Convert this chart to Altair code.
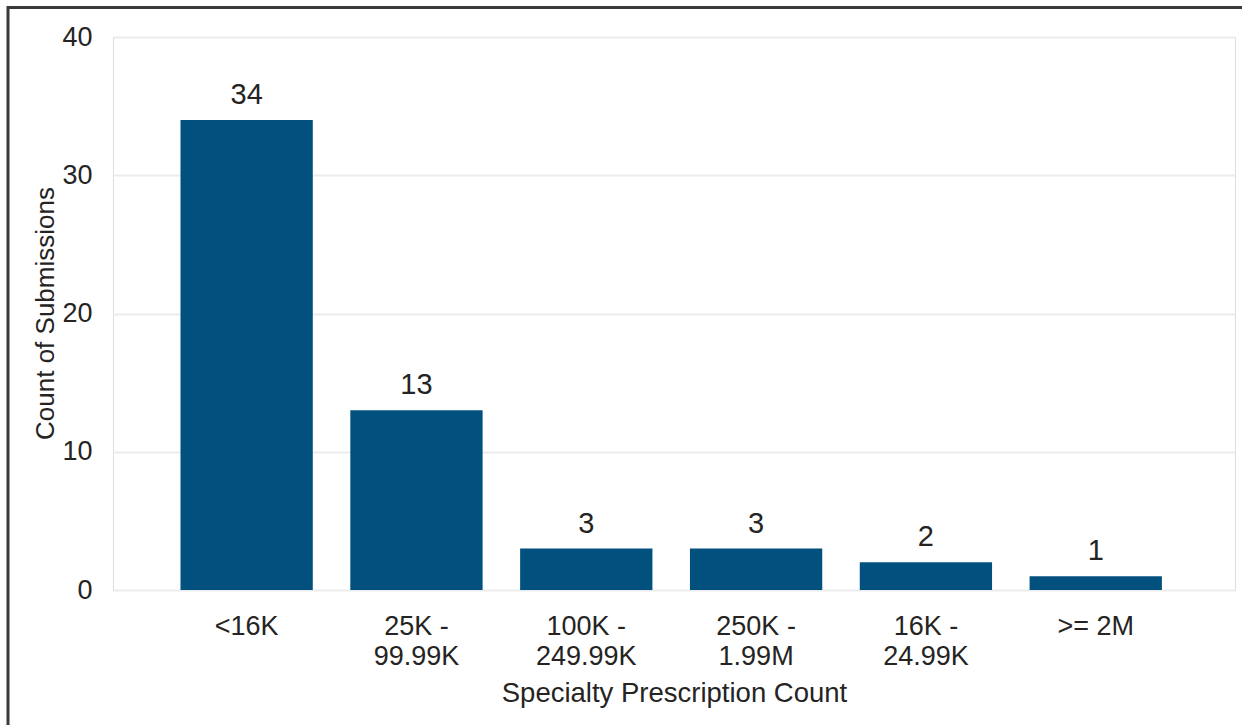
import altair as alt
import pandas as pd

# Submission counts per specialty prescription volume band
bands = ["<16K", "25K - 99.99K", "100K - 249.99K", "250K - 1.99M", "16K - 24.99K", ">= 2M"]
submissions = [34, 13, 3, 3, 2, 1]
y_ticks = [0, 10, 20, 30, 40]

df = pd.DataFrame({"band": bands, "count": submissions})

BAR = "#02507e"
TEXT = "#252423"
FONT = "Liberation Sans"

base = alt.Chart(df).encode(
    x=alt.X(
        "band:N",
        sort=None,
        scale=alt.Scale(paddingInner=0.221, paddingOuter=0.414, align=0.48),
        axis=alt.Axis(
            title="Specialty Prescription Count",
            labelAngle=0,
            labelExpr="split(replace(datum.label, ' - ', ' -|'), '|')",
            labelFontSize=27,
            labelLineHeight=30,
            labelPadding=23,
            labelColor=TEXT,
            labelFont=FONT,
            domain=False,
            ticks=False,
            tickSize=0,
            grid=False,
            titleFontSize=27.5,
            titleFontWeight="normal",
            titleFont=FONT,
            titleColor=TEXT,
            titleY=103,
            titleBaseline="middle",
        ),
    ),
    y=alt.Y(
        "count:Q",
        scale=alt.Scale(domain=[0, 40], nice=False),
        axis=alt.Axis(
            title="Count of Submissions",
            values=y_ticks,
            labelFontSize=27,
            labelPadding=21,
            labelColor=TEXT,
            labelFont=FONT,
            domain=False,
            ticks=False,
            tickSize=0,
            grid=True,
            gridColor="#ececec",
            gridWidth=2,
            titleFontSize=26,
            titleFontWeight="normal",
            titleFont=FONT,
            titleColor=TEXT,
            titleAngle=-90,
            titleX=-68,
            titleY=276,
            titleAlign="center",
            titleBaseline="middle",
        ),
    ),
)

bars = base.mark_bar(color=BAR)
labels = base.mark_text(
    baseline="middle", dy=-25, fontSize=29, font=FONT, color=TEXT
).encode(text="count:Q")

# Outer frame of the visual (open on the right and bottom edges)
frame = alt.Chart(alt.Data(values=[{}])).mark_rect(
    fill=None, stroke="#3a3a3a", strokeWidth=3, clip=False
).encode(
    x=alt.value(-105), x2=alt.value(1200),
    y=alt.value(-29.5), y2=alt.value(800),
)

chart = alt.layer(bars, labels, frame).properties(
    width=1122,
    height=553,
    autosize=alt.AutoSizeParams(type="none"),
    padding={"left": 113, "top": 37, "right": 7, "bottom": 135},
).configure_view(stroke=None).configure(background="white")

chart.save("out.html", embed_options={"renderer": "svg", "actions": False})
